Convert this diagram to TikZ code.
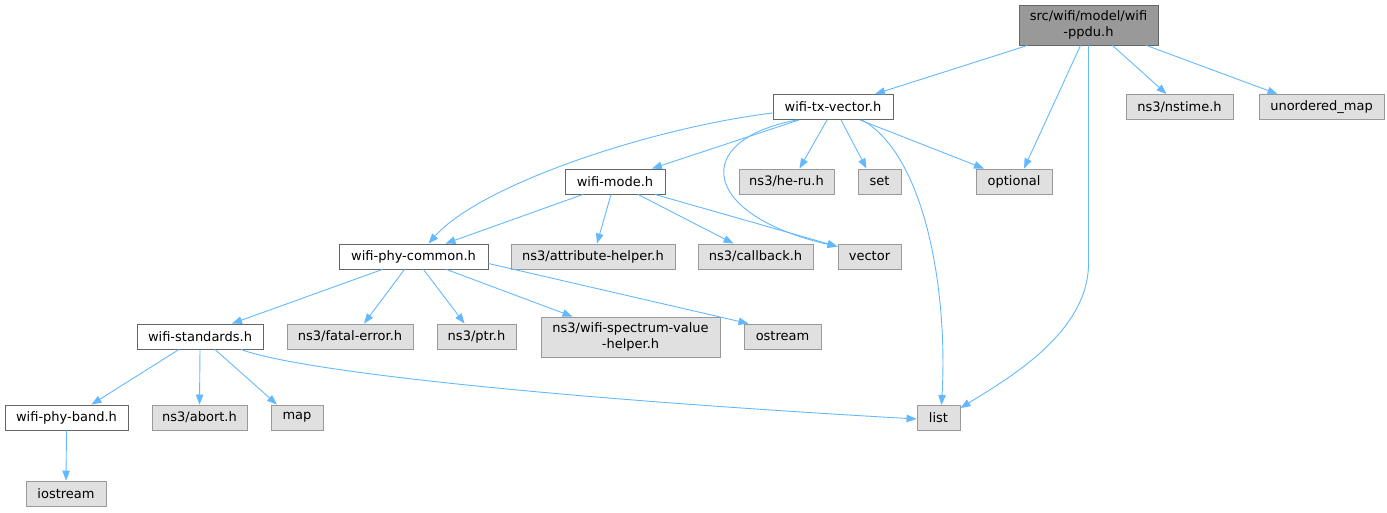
\documentclass[tikz,border=0pt]{standalone}
\usepackage{fontspec}
\setmainfont{DejaVu Sans}
\usetikzlibrary{arrows.meta}
\definecolor{edgeblue}{HTML}{63B8FF}
\definecolor{extfill}{HTML}{E0E0E0}
\definecolor{extdraw}{HTML}{999999}
\definecolor{wdraw}{HTML}{666666}
\definecolor{rootfill}{HTML}{999999}
\tikzset{
  base/.style={draw, line width=0.9pt, inner sep=0pt, minimum height=25pt, font=\fontsize{13}{16}\selectfont},
  gnode/.style={base, fill=extfill, draw=extdraw},
  wnode/.style={base, fill=white, draw=wdraw},
  rnode/.style={base, fill=rootfill, draw=wdraw, align=center},
  dep/.style={draw=edgeblue, line width=0.9pt, -{Triangle[length=10pt,width=7.5pt]}}
}
\begin{document}
\begin{tikzpicture}[x=1pt,y=-1pt]
\useasboundingbox (0,0) rectangle (1387,512);
% nodes
\node[rnode, minimum width=139pt, minimum height=40pt] (ppdu) at (1088.5,25) {src/wifi/model/wifi\\-ppdu.h};
\node[wnode, minimum width=120pt] (txv) at (833,107) {wifi-tx-vector.h};
\node[gnode, minimum width=107pt] (nstime) at (1179.5,107) {ns3/nstime.h};
\node[gnode, minimum width=125pt] (umap) at (1321.5,107) {unordered\_map};
\node[wnode, minimum width=100pt] (wmode) at (615,181.5) {wifi-mode.h};
\node[gnode, minimum width=95pt] (heru) at (786.5,181.5) {ns3/he-ru.h};
\node[gnode, minimum width=43pt] (set) at (879.5,181.5) {set};
\node[gnode, minimum width=76pt] (optional) at (1014,181.5) {optional};
\node[wnode, minimum width=149pt] (phyc) at (413.5,256.5) {wifi-phy-common.h};
\node[gnode, minimum width=164pt] (attr) at (593,256.5) {ns3/attribute-helper.h};
\node[gnode, minimum width=115pt] (callback) at (755.5,256.5) {ns3/callback.h};
\node[gnode, minimum width=63pt] (vector) at (869.5,256.5) {vector};
\node[wnode, minimum width=126pt] (wstd) at (200,336.5) {wifi-standards.h};
\node[gnode, minimum width=126pt] (fatal) at (350,336.5) {ns3/fatal-error.h};
\node[gnode, minimum width=79pt] (ptr) at (476.5,336.5) {ns3/ptr.h};
\node[gnode, minimum width=179pt, minimum height=40pt, align=center] (spec) at (630.5,337) {ns3/wifi-spectrum-value\\-helper.h};
\node[gnode, minimum width=77pt] (ostream) at (782.5,336.5) {ostream};
\node[wnode, minimum width=123pt] (band) at (66.5,417.5) {wifi-phy-band.h};
\node[gnode, minimum width=95pt] (abort) at (199.5,417.5) {ns3/abort.h};
\node[gnode, minimum width=52pt] (map) at (297,417.5) {map};
\node[gnode, minimum width=43pt] (list) at (938.5,418) {list};
\node[gnode, minimum width=80pt] (iostream) at (66,493.5) {iostream};
% edges from root
\draw[dep] ([xshift=-61]ppdu.south) -- ([xshift=42]txv.north);
\draw[dep] ([xshift=-8]ppdu.south) -- ([xshift=10]optional.north);
\draw[dep] (ppdu.south) -- ++(0,218) .. controls +(0,70) and +(45,-28) .. ([yshift=-3]list.north east);
\draw[dep] ([xshift=24]ppdu.south) -- ([xshift=-13]nstime.north);
\draw[dep] ([xshift=58]ppdu.south) -- ([xshift=-44]umap.north);
% edges from wifi-tx-vector.h
\draw[dep] ([yshift=-6]txv.west) .. controls (650,128) and (480,185) .. ([xshift=15]phyc.north);
\draw[dep] ([xshift=-34]txv.south) -- ([xshift=37]wmode.north);
\draw[dep] ([xshift=-36]txv.south) .. controls (690,140) and (700,215) .. ([yshift=-3]vector.north west);
\draw[dep] ([xshift=-6]txv.south) -- ([xshift=13]heru.north);
\draw[dep] ([xshift=8]txv.south) -- ([xshift=-13]set.north);
\draw[dep] ([xshift=27]txv.south) -- ([xshift=-30]optional.north);
\draw[dep] ([xshift=29]txv.south) .. controls (925,155) and (948,290) .. ([xshift=3]list.north);
% edges from wifi-mode.h
\draw[dep] ([xshift=-32]wmode.south) -- ([xshift=32]phyc.north);
\draw[dep] ([xshift=-4]wmode.south) -- ([xshift=4]attr.north);
\draw[dep] ([xshift=23]wmode.south) -- ([xshift=-22]callback.north);
\draw[dep] ([xshift=40]wmode.south) -- ([yshift=-3]vector.north west);
% edges from wifi-phy-common.h
\draw[dep] ([xshift=-31]phyc.south) -- ([xshift=32]wstd.north);
\draw[dep] ([xshift=-9]phyc.south) -- ([xshift=14]fatal.north);
\draw[dep] ([xshift=10]phyc.south) -- ([xshift=-12]ptr.north);
\draw[dep] ([xshift=33]phyc.south) -- ([xshift=-58]spec.north);
\draw[dep] ([yshift=-7]phyc.east) -- ([xshift=-34]ostream.north);
% edges from wifi-standards.h
\draw[dep] ([xshift=-21]wstd.south) -- ([xshift=25]band.north);
\draw[dep] (wstd.south) -- (abort.north);
\draw[dep] ([xshift=15]wstd.south) -- ([xshift=-20]map.north);
\draw[dep] ([xshift=41]wstd.south) .. controls (290,368) and (500,395) .. ([yshift=-1]list.west);
% edge from wifi-phy-band.h
\draw[dep] (band.south) -- (iostream.north);
\end{tikzpicture}
\end{document}
